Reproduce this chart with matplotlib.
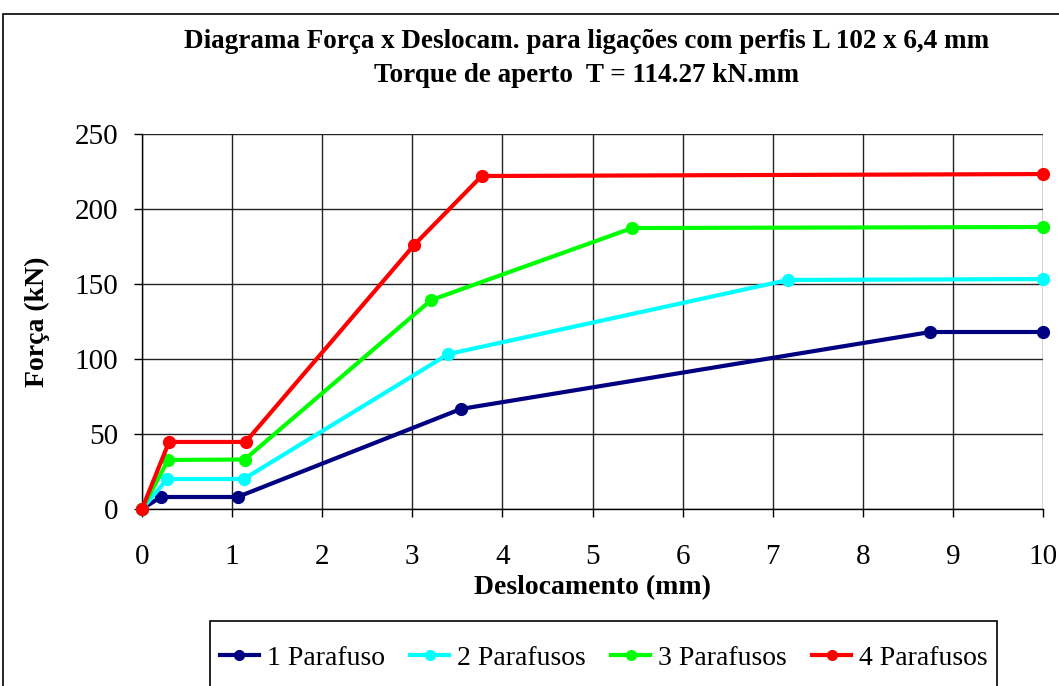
import matplotlib
matplotlib.use("Agg")
import matplotlib.pyplot as plt
from matplotlib.patches import Rectangle

plt.rcParams['font.family'] = ['Liberation Serif', 'DejaVu Serif']

# Data
x1 = [0, 0.21, 1.06, 3.54, 8.75, 10]
y1 = [0, 8, 8, 66.7, 118, 118]
x2 = [0, 0.28, 1.13, 3.40, 7.17, 10]
y2 = [0, 20, 20, 103.3, 152.7, 153.3]
x3 = [0, 0.29, 1.14, 3.21, 5.44, 10]
y3 = [0, 32.7, 33, 139.3, 187.3, 188]
x4 = [0, 0.30, 1.15, 3.02, 3.77, 10]
y4 = [0, 44.7, 44.7, 176, 222, 223.3]
labels = ["1 Parafuso", "2 Parafusos", "3 Parafusos", "4 Parafusos"]
colors = ["#000080", "#00FFFF", "#00FF00", "#FF0000"]
xticks = list(range(0, 11))
yticks = [0, 50, 100, 150, 200, 250]

W, H = 1059, 686
fig = plt.figure(figsize=(W / 100, H / 100), dpi=100)
ax = fig.add_axes([142 / W, 1 - 509 / H, (1043 - 142) / W, (509 - 134) / H])

series = [(x1, y1), (x2, y2), (x3, y3), (x4, y4)]
for (xs, ys), lab, c in zip(series, labels, colors):
    ax.plot(xs, ys, color=c, lw=3, marker='o', ms=8.5, label=lab,
            clip_on=False, zorder=3)

ax.set_xlim(0, 10)
ax.set_ylim(0, 250)
ax.set_xticks(xticks)
ax.set_yticks(yticks)
ax.grid(True, color='#222222', lw=1)
ax.set_axisbelow(True)
for s in ['top', 'right']:
    ax.spines[s].set_visible(False)
for s in ['left', 'bottom']:
    ax.spines[s].set_color('black')
    ax.spines[s].set_linewidth(1)
ax.tick_params(direction='out', length=6, width=1, labelsize=21)
ax.tick_params(axis='x', pad=19)
ax.tick_params(axis='y', pad=11)
ax.set_xlabel("Deslocamento (mm)", fontsize=20, fontweight='bold', labelpad=4)
ax.set_ylabel("Força (kN)", fontsize=20, fontweight='bold', labelpad=18)

fig.text(587 / W, 1 - 42 / H, "Diagrama Força x Deslocam. para ligações com perfis L 102 x 6,4 mm",
         ha='center', va='center', fontsize=19.5, fontweight='bold')
fig.text(587 / W, 1 - 75 / H, "Torque de aperto  T = 114.27 kN.mm",
         ha='center', va='center', fontsize=19.5, fontweight='bold')

# figure border
fig.patches.append(Rectangle((3 / W, -0.1), 1.2, 1 - 14 / H + 0.1, transform=fig.transFigure,
                             fill=False, edgecolor='black', lw=1.2))
# legend border
fig.patches.append(Rectangle((210 / W, -0.1), (997 - 210) / W, 1 - 621 / H + 0.1,
                             transform=fig.transFigure, fill=False, edgecolor='black', lw=1.2))

leg = fig.legend(loc='center', bbox_to_anchor=(604 / W, 1 - 658 / H), ncol=4, frameon=False,
                 fontsize=20, handlelength=1.4, handletextpad=0.3, columnspacing=0.9,
                 borderaxespad=0)
for h in leg.legend_handles:
    h.set_markersize(7)

fig.savefig("out.png", dpi=100)
